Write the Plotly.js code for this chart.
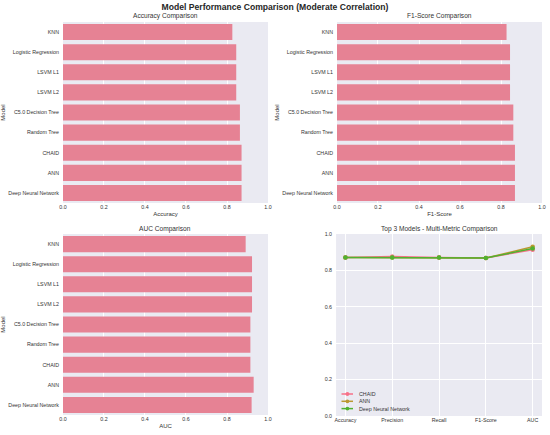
<!DOCTYPE html>
<html>
<head>
<meta charset="utf-8">
<script src="https://cdn.plot.ly/plotly-3.0.1.min.js"></script>
<style>html,body{margin:0;padding:0;background:#fff;}#chart{width:550px;height:435px;}</style>
</head>
<body>
<div id="chart"></div>
<script>
var models = ['KNN','Logistic Regression','LSVM L1','LSVM L2','C5.0 Decision Tree','Random Tree','CHAID','ANN','Deep Neural Network'];
var accuracy = [0.826,0.845,0.845,0.845,0.863,0.863,0.871,0.871,0.871];
var f1score = [0.827,0.844,0.844,0.844,0.860,0.860,0.868,0.868,0.868];
var auc = [0.891,0.922,0.922,0.922,0.914,0.914,0.914,0.930,0.920];

var metrics = ['Accuracy','Precision','Recall','F1-Score','AUC'];
var topModels = ['CHAID','ANN','Deep Neural Network'];
var chaidScores = [0.871,0.876,0.871,0.868,0.914];
var annScores = [0.871,0.871,0.871,0.868,0.930];
var dnnScores = [0.871,0.871,0.871,0.868,0.920];

var BAR = '#E68294';
var lineColors = ['#f77189','#bb9832','#50b131'];
var FONT = 'Liberation Sans, Arial, sans-serif';
var TXT = '#333333';

function barTrace(vals, xa, ya){
  return {type:'bar', orientation:'h', y:models, x:vals, xaxis:xa, yaxis:ya,
    marker:{color:BAR}, width:0.8, showlegend:false, hoverinfo:'x+y'};
}
var lineScores = [chaidScores, annScores, dnnScores];
var traces = [
  barTrace(accuracy,'x','y'),
  barTrace(f1score,'x2','y2'),
  barTrace(auc,'x3','y3')
];
for (var i=0;i<topModels.length;i++){
  traces.push({type:'scatter', mode:'lines+markers', x:metrics, y:lineScores[i],
    xaxis:'x4', yaxis:'y4', name:topModels[i], showlegend:false,
    line:{color:lineColors[i], width:1.5}, marker:{color:lineColors[i], size:4.5}});
}

var tickF = {family:FONT, size:5.3, color:TXT};
var titF = {family:FONT, size:6, color:TXT};
function barX(dom, title, anchor){
  return {domain:dom, anchor:anchor, range:[0,1], dtick:0.2, tick0:0, tickformat:'.1f',
    showgrid:true, gridcolor:'#ffffff', gridwidth:1, zeroline:false, showline:false, ticks:'',
    tickfont:tickF, title:{text:title, font:titF, standoff:2}, fixedrange:true};
}
function barY(dom, anchor){
  return {domain:dom, anchor:anchor, type:'category', autorange:'reversed', showgrid:false,
    zeroline:false, showline:false, ticks:'', tickfont:tickF, ticklabelstandoff:3,
    title:{text:'Model', font:titF, standoff:2}, fixedrange:true};
}
var xL=[0.1145,0.4873], xR=[0.6127,0.9855], xR2=[0.611,0.9855];
var yT=[0.5333,0.9494], yB=[0.046,0.462], yB2=[0.0437,0.462];

var annotations = [
  {text:'Accuracy Comparison', x:(xL[0]+xL[1])/2, y:1-16.5/435},
  {text:'F1-Score Comparison', x:(xR[0]+xR[1])/2, y:1-16.5/435},
  {text:'AUC Comparison', x:(xL[0]+xL[1])/2, y:1-228.5/435},
  {text:'Top 3 Models - Multi-Metric Comparison', x:(xR2[0]+xR2[1])/2, y:1-228.5/435}
].map(function(a){
  a.xref='paper'; a.yref='paper'; a.showarrow=false; a.xanchor='center'; a.yanchor='middle';
  a.font={family:FONT,size:6.6,color:TXT}; return a;
});

// manual compact legend (matplotlib-style)
var shapes = [];
var legRows = [394, 401.3, 408.6];
for (var k=0;k<topModels.length;k++){
  var py = 1 - legRows[k]/435;
  shapes.push({type:'line', xref:'paper', yref:'paper', x0:341.5/550, x1:353/550, y0:py, y1:py,
    line:{color:lineColors[k], width:1.5}});
  shapes.push({type:'circle', xref:'paper', yref:'paper', x0:345.5/550, x1:349.3/550,
    y0:py-1.9/435, y1:py+1.9/435, fillcolor:lineColors[k], line:{color:lineColors[k], width:0}});
  annotations.push({text:topModels[k], xref:'paper', yref:'paper', x:356.5/550, y:py,
    xanchor:'left', yanchor:'middle', showarrow:false, font:{family:FONT,size:5.3,color:TXT}});
}

var layout = {
  width:550, height:435,
  margin:{l:0,r:0,t:0,b:0},
  paper_bgcolor:'#ffffff', plot_bgcolor:'#EAEAF2',
  font:{family:FONT, color:TXT},
  title:{text:'<b>Model Performance Comparison (Moderate Correlation)</b>', font:{family:FONT, size:8.6, color:'#262626'},
    x:0.5, xanchor:'center', y:0.984, yanchor:'middle'},
  bargap:0.2,
  xaxis:barX(xL,'Accuracy','y'), yaxis:barY(yT,'x'),
  xaxis2:barX(xR,'F1-Score','y2'), yaxis2:barY(yT,'x2'),
  xaxis3:barX(xL,'AUC','y3'), yaxis3:barY(yB,'x3'),
  xaxis4:{domain:xR2, anchor:'y4', type:'category', range:[-0.2,4.2], showgrid:true, gridcolor:'#ffffff',
    zeroline:false, showline:false, ticks:'', tickfont:tickF, fixedrange:true},
  yaxis4:{domain:yB2, anchor:'x4', range:[0,1], dtick:0.2, tickformat:'.1f', showgrid:true, gridcolor:'#ffffff',
    zeroline:false, showline:false, ticks:'', tickfont:tickF, ticklabelstandoff:3, fixedrange:true},
  showlegend:false,
  shapes:shapes,
  annotations:annotations
};
Plotly.newPlot('chart', traces, layout, {displayModeBar:false, staticPlot:true});
</script>
</body>
</html>
